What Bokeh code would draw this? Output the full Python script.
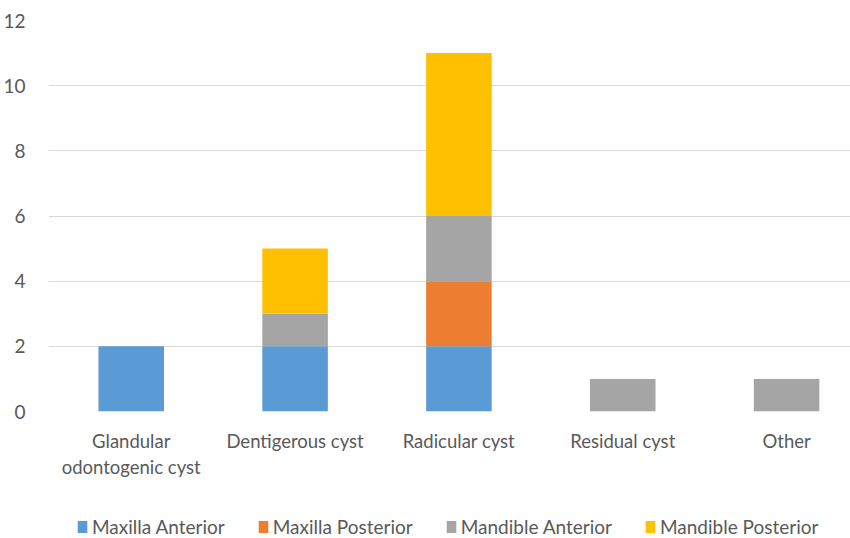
from bokeh.plotting import figure
from bokeh.models import Range1d, FixedTicker, Legend, LegendItem, ColumnDataSource
from bokeh.layouts import column
from bokeh.embed import file_html
from bokeh.resources import INLINE

categories = ["Glandular\nodontogenic cyst", "Dentigerous cyst", "Radicular cyst", "Residual cyst", "Other"]
series_names = ["Maxilla Anterior", "Maxilla Posterior", "Mandible Anterior", "Mandible Posterior"]
maxilla_anterior = [2, 2, 2, 0, 0]
maxilla_posterior = [0, 0, 2, 0, 0]
mandible_anterior = [0, 1, 2, 1, 1]
mandible_posterior = [0, 2, 5, 0, 0]
y_ticks = [0, 2, 4, 6, 8, 10, 12]
colors = ["#5B9BD5", "#ED7D31", "#A5A5A5", "#FFC000"]

keys = ["ma", "mp", "mda", "mdp"]
source = ColumnDataSource(dict(
    x=list(range(len(categories))),
    ma=maxilla_anterior, mp=maxilla_posterior, mda=mandible_anterior, mdp=mandible_posterior,
))

FONT = "Lato"
TXT = "#595959"

p = figure(width=850, height=480, output_backend="svg", toolbar_location=None,
           x_range=Range1d(-0.505, 4.39), y_range=Range1d(0, 12),
           min_border_left=48, min_border_right=0, min_border_top=20, min_border_bottom=66)
p.outline_line_color = None

p.vbar_stack(keys, x="x", width=0.4, color=colors, line_color=None, source=source)

p.xaxis.ticker = FixedTicker(ticks=list(range(len(categories))))
p.xaxis.major_label_overrides = {i: c for i, c in enumerate(categories)}
p.xaxis.axis_line_color = None
p.xaxis.major_tick_line_color = None
p.xaxis.minor_tick_line_color = None
p.xaxis.major_label_text_font = FONT
p.xaxis.major_label_text_font_size = "18.5px"
p.xaxis.major_label_text_color = TXT
p.xaxis.major_label_standoff = 12
p.xgrid.grid_line_color = None

p.yaxis.ticker = FixedTicker(ticks=y_ticks)
p.yaxis.axis_line_color = None
p.yaxis.major_tick_line_color = None
p.yaxis.minor_tick_line_color = None
p.yaxis.major_label_text_font = FONT
p.yaxis.major_label_text_font_size = "19px"
p.yaxis.major_label_text_color = TXT
p.yaxis.major_label_standoff = 17
p.ygrid.ticker = FixedTicker(ticks=y_ticks)
p.ygrid.grid_line_color = "#D9D9D9"
p.ygrid.grid_line_width = 1

# legend strip below the chart (same stacked series, kept out of view; only the legend shows)
p2 = figure(width=850, height=58, output_backend="svg", toolbar_location=None,
            x_axis_type=None, y_axis_type=None,
            x_range=Range1d(100, 101), y_range=Range1d(100, 101),
            min_border_left=0, min_border_right=0, min_border_top=0, min_border_bottom=0)
p2.outline_line_color = None
p2.grid.visible = False
proxies = p2.vbar_stack(keys, x="x", width=0.4, color=colors, line_color=None, source=source)
items = [LegendItem(label=n, renderers=[r]) for n, r in zip(series_names, proxies)]
legend = Legend(items=items, orientation="horizontal", location=(28, 0),
                padding=0, margin=0, spacing=32, label_standoff=4,
                glyph_width=12, glyph_height=15,
                label_text_font=FONT, label_text_font_size="19px", label_text_color=TXT,
                border_line_color=None, background_fill_alpha=0)
p2.add_layout(legend, "center")

layout = column(p, p2, spacing=0)
open("out.html", "w").write(file_html(layout, INLINE))
